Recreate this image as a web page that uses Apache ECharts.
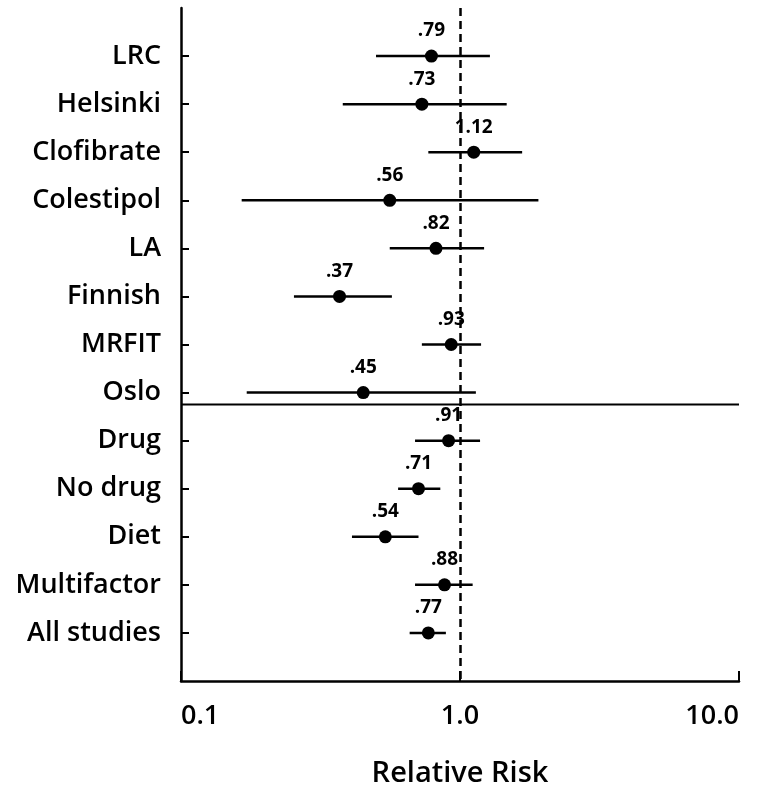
<!DOCTYPE html>
<html><head><meta charset="utf-8">
<script src="https://cdn.jsdelivr.net/npm/echarts@6/dist/echarts.min.js"></script>
<style>html,body{margin:0;padding:0;background:#fff}#c{width:766px;height:793px}</style>
</head><body><div id="c"></div>
<script>
const studies = ['LRC','Helsinki','Clofibrate','Colestipol','LA','Finnish','MRFIT','Oslo','Drug','No drug','Diet','Multifactor','All studies'];
const relRisk = [0.79,0.73,1.12,0.56,0.82,0.37,0.93,0.45,0.91,0.71,0.54,0.88,0.77];
const ciLow  = [0.50,0.38,0.77,0.165,0.56,0.254,0.73,0.172,0.69,0.60,0.41,0.69,0.66];
const ciHigh = [1.28,1.47,1.67,1.91,1.22,0.57,1.19,1.14,1.18,0.85,0.71,1.11,0.89];
const xTicks = [0.1, 1, 10];
const separatorAfter = 8.25; // between Oslo and Drug (row positions)

const cats = [''].concat(studies).concat(['']);
const rowPos = studies.map((s,i)=>i+1);
const font = '"Open Sans", Lato, sans-serif';

const chart = echarts.init(document.getElementById('c'), null, {renderer:'canvas'});
chart.setOption({
  animation:false,
  backgroundColor:'#fff',
  grid:{left:181,right:27,top:8,bottom:111},
  xAxis:{
    type:'log', logBase:10, min:0.1, max:10,
    axisLine:{onZero:false,lineStyle:{color:'#000',width:2.5}},
    axisTick:{inside:true,length:10,lineStyle:{color:'#000',width:2}},
    axisLabel:{margin:22,fontSize:27,fontWeight:600,color:'#000',fontFamily:font,
      alignMinLabel:'left',alignMaxLabel:'right',
      formatter:v=>xTicks.some(t=>Math.abs(t-v)<1e-9)?Number(v).toFixed(1):''},
    splitLine:{show:false},
    name:'Relative Risk', nameLocation:'middle', nameGap:78,
    nameTextStyle:{fontSize:29,fontWeight:600,color:'#000',fontFamily:font}
  },
  yAxis:[{
    type:'category', data:cats, inverse:true, boundaryGap:false,
    axisLine:{onZero:false,lineStyle:{color:'#000',width:2.5}},
    axisTick:{inside:true,length:8,lineStyle:{color:'#000',width:2},
      interval:(i,v)=>v!==''},
    axisLabel:{margin:20,fontSize:27,fontWeight:600,color:'#000',fontFamily:font,interval:0},
    splitLine:{show:false}
  },{
    type:'value', inverse:true, min:0, max:cats.length-1, show:false
  }],
  series:[
    {
      type:'custom', yAxisIndex:1,
      data:studies.map((s,i)=>[ciLow[i],ciHigh[i],rowPos[i]]),
      renderItem:(params,api)=>{
        const a=api.coord([api.value(0),api.value(2)]);
        const b=api.coord([api.value(1),api.value(2)]);
        return {type:'line',shape:{x1:a[0],y1:a[1],x2:b[0],y2:b[1]},
          style:{stroke:'#000',lineWidth:2.5}};
      },
      silent:true
    },
    {
      type:'line', yAxisIndex:1, symbol:'none',
      data:[[xTicks[0],separatorAfter],[xTicks[2],separatorAfter]],
      lineStyle:{color:'#000',width:2},
      markLine:{silent:true,symbol:'none',label:{show:false},
        lineStyle:{color:'#000',width:2.5,type:[8,5]},
        data:[{xAxis:1}]}
    },
    {
      type:'scatter', yAxisIndex:1, symbol:'circle', symbolSize:13,
      itemStyle:{color:'#000',opacity:1},
      data:relRisk.map((v,i)=>[v,rowPos[i]]),
      label:{show:true,position:'top',distance:9,fontSize:19,fontWeight:'bold',
        color:'#000',opacity:1,fontFamily:font,
        formatter:p=>String(p.value[0]).replace(/^0/,'')}
    }
  ]
});
</script></body></html>
